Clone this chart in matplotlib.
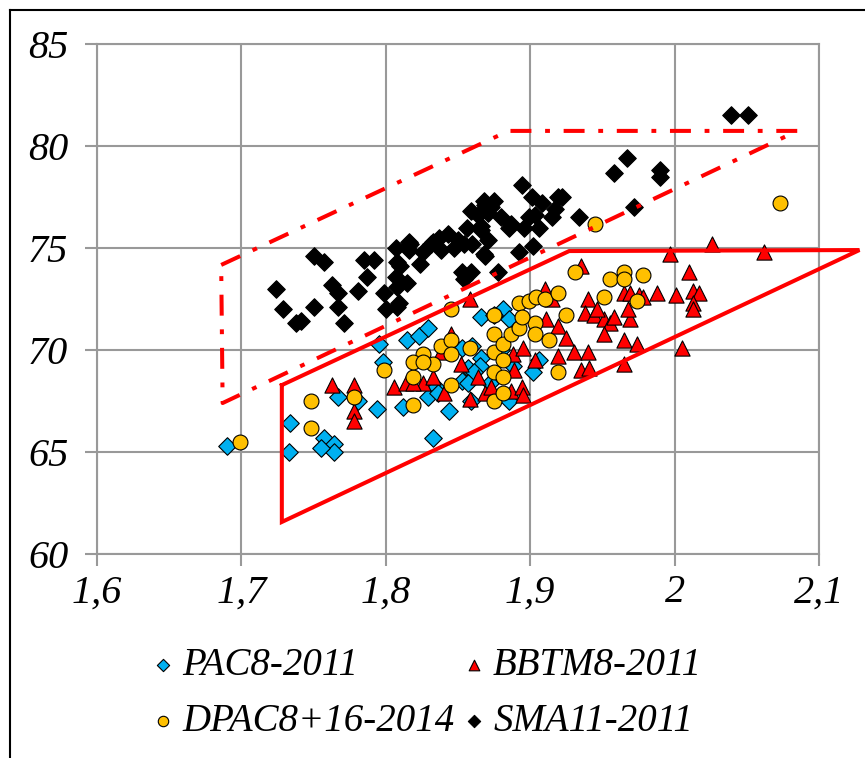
import matplotlib.pyplot as plt
from matplotlib.lines import Line2D

plt.rcParams['font.family'] = 'Liberation Serif'
plt.rcParams['font.style'] = 'italic'

# series values (x, y)
pac = [(1.690, 65.3), (1.734, 66.4), (1.733, 65.0), (1.757, 65.7), (1.764, 65.4), (1.764, 65.0),
       (1.755, 65.2), (1.767, 67.7), (1.781, 67.5), (1.794, 67.1), (1.795, 70.3), (1.798, 69.4),
       (1.812, 67.2), (1.815, 70.5), (1.823, 70.7), (1.829, 71.1), (1.833, 65.7), (1.844, 67.0),
       (1.829, 67.7), (1.835, 68.2), (1.853, 68.5), (1.857, 69.1), (1.866, 69.6), (1.866, 71.6),
       (1.881, 72.0), (1.885, 71.5), (1.875, 71.7), (1.865, 69.2), (1.861, 68.9), (1.857, 68.4),
       (1.859, 67.5), (1.872, 68.4), (1.885, 67.5), (1.888, 69.2), (1.902, 68.9), (1.906, 69.5),
       (1.880, 70.0), (1.853, 70.1), (1.860, 70.2), (1.836, 67.9)]

bbtm = [(1.763, 68.3), (1.778, 68.3), (1.778, 67.0), (1.778, 66.5), (1.806, 68.2), (1.814, 68.4),
        (1.826, 68.4), (1.833, 68.7), (1.840, 67.9), (1.845, 70.8), (1.852, 69.3), (1.864, 68.7),
        (1.858, 67.6), (1.869, 67.9), (1.858, 72.5), (1.838, 69.9), (1.873, 68.2), (1.887, 68.0),
        (1.894, 68.2), (1.889, 69.0), (1.888, 69.8), (1.895, 70.1), (1.903, 69.5), (1.911, 71.5),
        (1.910, 73.0), (1.919, 71.2), (1.925, 70.6), (1.930, 69.9), (1.919, 69.7), (1.935, 74.1),
        (1.940, 72.5), (1.938, 71.8), (1.944, 71.7), (1.951, 71.5), (1.955, 71.3), (1.951, 70.8),
        (1.965, 72.8), (1.969, 72.8), (1.975, 72.7), (1.978, 72.6), (1.969, 71.5), (1.965, 70.5),
        (1.974, 70.3), (1.940, 69.9), (1.935, 69.0), (1.941, 69.1), (1.965, 69.3), (1.988, 72.8),
        (2.001, 72.7), (1.997, 74.7), (2.026, 75.2), (2.062, 74.8), (2.010, 73.8), (2.013, 72.9),
        (2.017, 72.8), (2.013, 72.3), (2.013, 72.0), (2.005, 70.1), (1.915, 72.5), (1.946, 72.0),
        (1.958, 71.6), (1.968, 72.0), (1.819, 68.4), (1.895, 67.8)]

dpac = [(1.699, 65.5), (1.748, 67.5), (1.748, 66.2), (1.778, 67.7), (1.799, 69.0), (1.819, 68.7),
        (1.819, 67.3), (1.826, 69.8), (1.819, 69.4), (1.833, 69.3), (1.838, 70.2), (1.845, 70.5),
        (1.845, 69.8), (1.845, 68.3), (1.858, 70.1), (1.845, 72.0), (1.875, 71.7), (1.875, 70.8),
        (1.875, 69.9), (1.875, 68.9), (1.875, 67.5), (1.881, 70.3), (1.881, 69.5), (1.881, 68.7),
        (1.881, 67.9), (1.887, 70.8), (1.892, 72.3), (1.892, 71.1), (1.899, 72.4), (1.904, 72.6),
        (1.910, 72.5), (1.903, 71.3), (1.903, 70.8), (1.913, 70.5), (1.919, 72.8), (1.919, 68.9),
        (1.925, 71.7), (1.931, 73.8), (1.945, 76.2), (1.951, 72.6), (1.955, 73.5), (1.965, 73.8),
        (1.965, 73.5), (1.974, 72.4), (1.978, 73.7), (2.073, 77.2), (1.894, 71.6), (1.826, 69.4)]

sma = [(1.724, 73.0), (1.729, 72.0), (1.738, 71.3), (1.741, 71.4), (1.750, 72.1), (1.750, 74.6),
       (1.757, 74.3), (1.763, 73.2), (1.767, 72.8), (1.767, 72.1), (1.771, 71.3), (1.781, 72.9),
       (1.787, 73.6), (1.785, 74.4), (1.792, 74.4), (1.799, 72.8), (1.800, 72.0), (1.807, 75.0),
       (1.808, 74.3), (1.807, 73.6), (1.808, 73.1), (1.808, 72.1), (1.817, 75.2), (1.816, 74.9),
       (1.824, 74.2), (1.826, 74.8), (1.831, 75.2), (1.833, 75.3), (1.837, 75.5), (1.838, 74.9),
       (1.843, 75.7), (1.847, 75.0), (1.850, 75.4), (1.854, 75.2), (1.856, 76.0), (1.859, 76.8),
       (1.864, 76.6), (1.860, 75.2), (1.866, 75.9), (1.866, 76.1), (1.868, 77.3), (1.869, 77.1),
       (1.873, 77.0), (1.875, 77.3), (1.871, 75.4), (1.868, 74.7), (1.869, 74.6), (1.853, 73.8),
       (1.859, 73.8), (1.854, 73.5), (1.878, 73.8), (1.880, 76.5), (1.885, 76.0), (1.887, 76.2),
       (1.892, 74.8), (1.894, 78.1), (1.896, 76.0), (1.899, 76.5), (1.901, 77.5), (1.902, 75.1),
       (1.906, 76.0), (1.908, 77.2), (1.915, 76.5), (1.917, 76.9), (1.919, 77.5), (1.922, 77.5),
       (1.934, 76.5), (1.958, 78.7), (1.967, 79.4), (1.972, 77.0), (1.990, 78.8), (1.990, 78.5),
       (2.039, 81.5), (2.051, 81.5), (1.810, 74.1), (1.815, 73.3), (1.809, 72.3), (1.903, 76.6),
       (1.816, 75.3), (1.871, 76.7)]

labels = ['PAC8-2011', 'BBTM8-2011', 'DPAC8+16-2014', 'SMA11-2011']

# zone outlines
zone_dd_x = [1.686, 1.885, 2.085, 1.687, 1.686]
zone_dd_y = [74.17, 80.74, 80.74, 67.4, 74.17]
zone_x = [1.728, 1.927, 2.128, 1.728, 1.728]
zone_y = [68.28, 74.85, 74.9, 61.57, 68.28]

xticks = [1.6, 1.7, 1.8, 1.9, 2.0, 2.1]
xtick_labels = ['1,6', '1,7', '1,8', '1,9', '2', '2,1']
yticks = [60, 65, 70, 75, 80, 85]

fig = plt.figure(figsize=(8.65, 7.58), dpi=100)
ax = fig.add_axes([97 / 865, 1 - 554 / 758, (819 - 97) / 865, (554 - 44) / 758])

grey = '#999999'
px, py = zip(*pac)
bx, by = zip(*bbtm)
dx, dy = zip(*dpac)
sx, sy = zip(*sma)
h1 = ax.scatter(px, py, marker='D', s=80, c='#00B0F0', edgecolors='black', linewidths=0.8, zorder=3)
h2 = ax.scatter(bx, by, marker='^', s=120, c='#FF0000', edgecolors='black', linewidths=0.8, zorder=4)
h3 = ax.scatter(dx, dy, marker='o', s=115, c='#FFC000', edgecolors='black', linewidths=0.8, zorder=5)
h4 = ax.scatter(sx, sy, marker='D', s=80, c='black', edgecolors='black', linewidths=0.8, zorder=6)

ax.plot(zone_dd_x, zone_dd_y, color='red', lw=2.9, linestyle=(0, (5.2, 3.4, 1.2, 3.4)),
        clip_on=False, zorder=8)
ax.plot(zone_x, zone_y, color='red', lw=2.9, solid_joinstyle='miter', clip_on=False, zorder=8)

ax.set_xlim(1.6, 2.1)
ax.set_ylim(60, 85)
ax.set_xticks(xticks)
ax.set_xticklabels(xtick_labels)
ax.set_yticks(yticks)
ax.grid(True, color=grey, lw=1.5)
ax.set_axisbelow(True)
for sp in ax.spines.values():
    sp.set_color(grey)
    sp.set_linewidth(1.5)
ax.tick_params(axis='both', direction='out', length=8.6, width=1.5, color=grey, labelsize=29)
ax.tick_params(axis='y', pad=12)
ax.tick_params(axis='x', pad=6)

# legend fills by column, so order handles to read row by row
fig.legend([h1, h3, h2, h4], [labels[0], labels[2], labels[1], labels[3]], ncol=2,
           loc='center', bbox_to_anchor=(0.492, 0.085), frameon=False, fontsize=28,
           markerscale=0.7, scatterpoints=1, handletextpad=0.15, columnspacing=0.15,
           handlelength=0.7, labelspacing=0.5)

# chart border
fig.add_artist(Line2D([10 / 865, 10 / 865], [0, 1 - 10 / 758], color='black', lw=1.5))
fig.add_artist(Line2D([10 / 865, 1], [1 - 10 / 758, 1 - 10 / 758], color='black', lw=1.5))

fig.savefig('out.png', dpi=100)
